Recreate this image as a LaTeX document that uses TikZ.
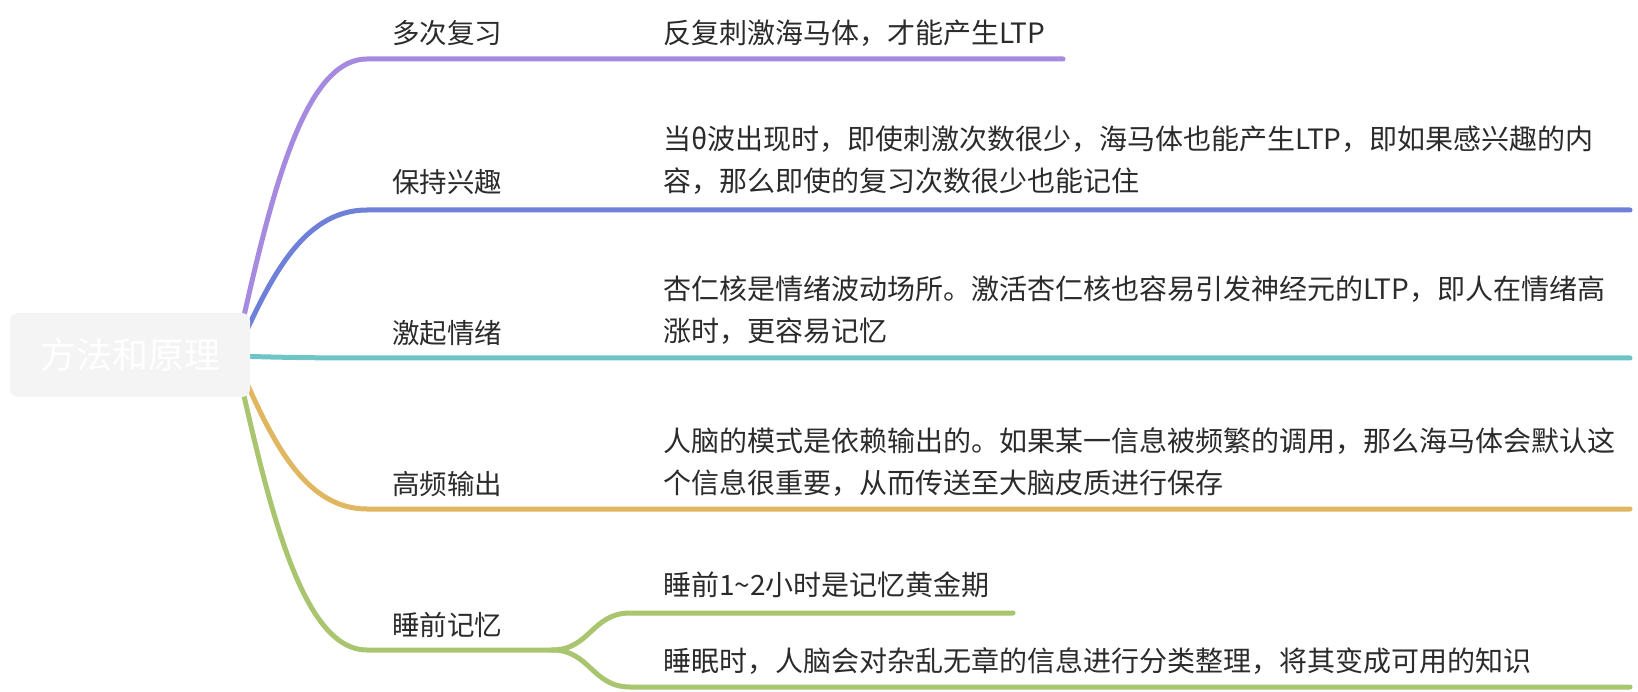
\documentclass[tikz,border=0pt]{standalone}
\usepackage{fontspec}
\usepackage{tikz}
\usetikzlibrary{positioning}
\newfontfamily\cjk{Noto Sans CJK SC}
\definecolor{lilac}{HTML}{A58ADF}
\definecolor{cornflower}{HTML}{6E80D8}
\definecolor{teal}{HTML}{6FC5C6}
\definecolor{mustard}{HTML}{E0B660}
\definecolor{olive}{HTML}{A9C56F}
\definecolor{rootgray}{HTML}{F4F4F4}
\definecolor{inkgray}{HTML}{2B2B2B}
\tikzset{branch/.style = {line width=5pt, line cap=round}}
\tikzset{topic/.style = {anchor=west, inner sep=0, text=inkgray,
                         font=\cjk\fontsize{27.5}{42}\selectfont}}
\tikzset{leaf/.style = {topic, align=left,
                        font=\cjk\fontsize{28}{42}\selectfont}}
\tikzset{rootbox/.style = {fill=rootgray, rounded corners=8pt, text=white,
                           minimum width=240pt, minimum height=84pt,
                           font=\cjk\fontsize{36}{42}\selectfont}}

\begin{document}
\begin{tikzpicture}[x=1pt,y=-1pt]
      \useasboundingbox (0,0) rectangle (1638,692);

      \coordinate (o) at (235,356);
      \coordinate (b1) at (367,59);
      \coordinate (e1) at (1063,59);
      \coordinate (b2) at (367,210);
      \coordinate (e2) at (1630,210);
      \coordinate (b3) at (367,358);
      \coordinate (e3) at (1630,358);
      \coordinate (b4) at (367,509);
      \coordinate (e4) at (1630,509);
      \coordinate (b5) at (367,650);
      \coordinate (s5) at (552,650);
      \coordinate (c1) at (630,613);
      \coordinate (d1) at (1013,613);
      \coordinate (c2) at (630,687);
      \coordinate (d2) at (1630,687);

      \draw[branch,lilac] (o) .. controls +(33,-148) and +(-66,0) .. (b1) -- (e1);
      \draw[branch,cornflower] (o) .. controls +(33,-73) and +(-66,0) .. (b2) -- (e2);
      \draw[branch,teal] (o) .. controls +(33,1) and +(-66,0) .. (b3) -- (e3);
      \draw[branch,mustard] (o) .. controls +(33,76) and +(-66,0) .. (b4) -- (e4);
      \draw[branch,olive] (o) .. controls +(33,147) and +(-66,0) .. (b5) -- (s5);
      \draw[branch,olive] (s5) .. controls +(38,0) and +(-38,0) .. (c1) -- (d1);
      \draw[branch,olive] (s5) .. controls +(38,0) and +(-38,0) .. (c2) -- (d2);

      \node[rootbox] (root) at (130,355) {方法和原理};

      \node[topic] (t1) at (392,33) {多次复习};
      \node[topic] (t2) at (392,182) {保持兴趣};
      \node[topic] (t3) at (392,333) {激起情绪};
      \node[topic] (t4) at (392,484) {高频输出};
      \node[topic] (t5) at (392,625) {睡前记忆};

      \node[leaf] (l1) at (663,33) {反复刺激海马体，才能产生LTP};
      \node[leaf] (l2) at (663,160) {当θ波出现时，即使刺激次数很少，海马体也能产生LTP，即如果感兴趣的内\\容，那么即使的复习次数很少也能记住};
      \node[leaf] (l3) at (663,310) {杏仁核是情绪波动场所。激活杏仁核也容易引发神经元的LTP，即人在情绪高\\涨时，更容易记忆};
      \node[leaf] (l4) at (663,462) {人脑的模式是依赖输出的。如果某一信息被频繁的调用，那么海马体会默认这\\个信息很重要，从而传送至大脑皮质进行保存};
      \node[leaf] (l5) at (663,585) {睡前1\textasciitilde2小时是记忆黄金期};
      \node[leaf] (l6) at (663,661) {睡眠时，人脑会对杂乱无章的信息进行分类整理，将其变成可用的知识};
    \end{tikzpicture}
\end{document}
